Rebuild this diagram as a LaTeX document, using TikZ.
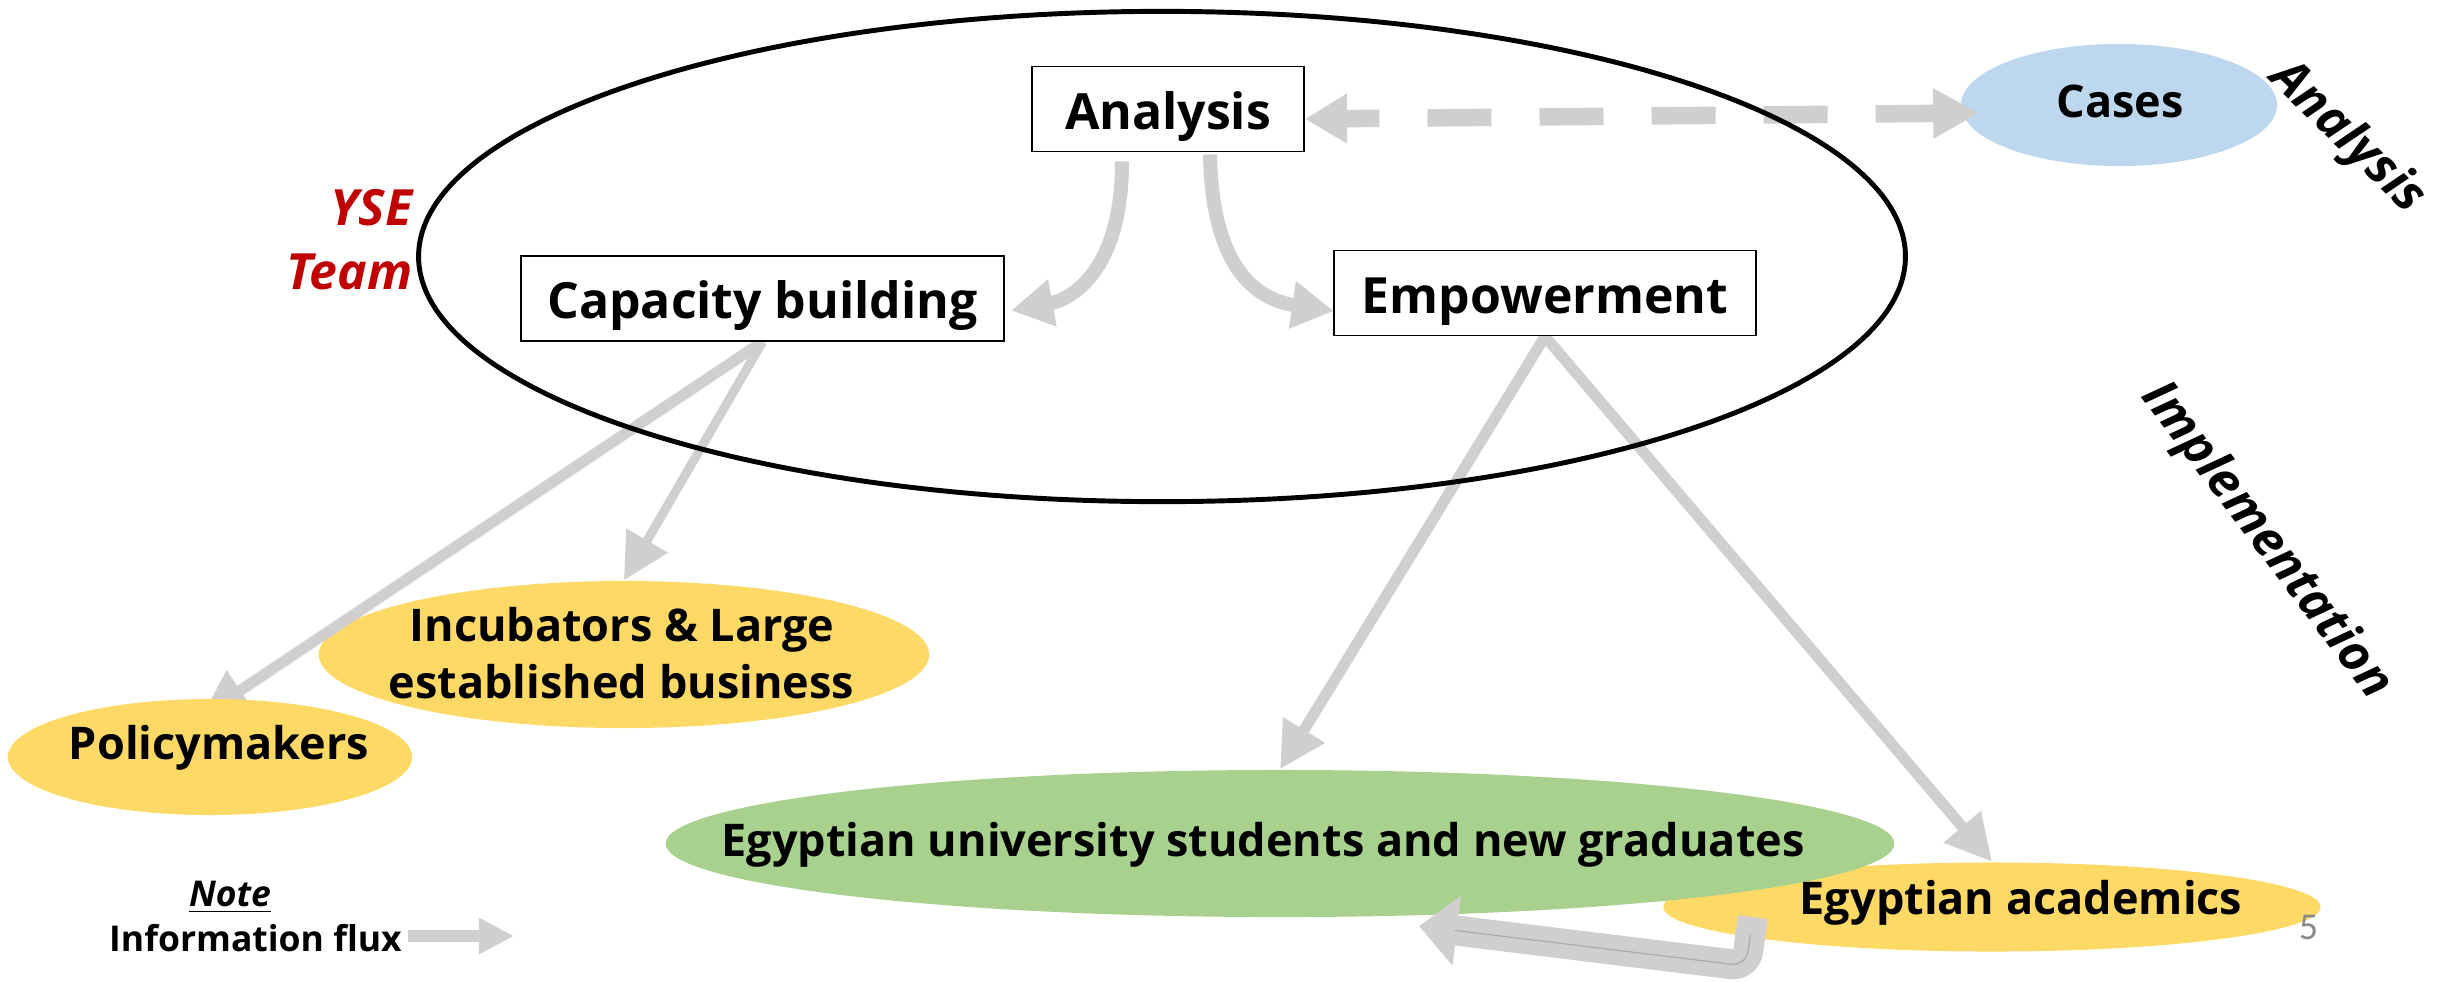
\documentclass[tikz,border=0pt]{standalone}
\usepackage{fontspec}
\setmainfont{Open Sans}
\newfontfamily\numfont{Carlito}
\usetikzlibrary{arrows.meta,shapes.geometric,calc}
\pgfdeclarelayer{bg}
\pgfdeclarelayer{arr}
\pgfsetlayers{bg,arr,main}
\definecolor{flowgray}{RGB}{208,206,206}
\definecolor{flowedge}{RGB}{172,170,170}
\definecolor{gold}{RGB}{255,217,102}
\definecolor{leaf}{RGB}{169,209,142}
\definecolor{sky}{RGB}{189,215,238}
\definecolor{ysered}{RGB}{192,0,0}
\definecolor{pagenum}{RGB}{137,137,137}
\newcommand\sizeL{\fontsize{14.2}{17}\selectfont}
\newcommand\sizeM{\fontsize{12.8}{15}\selectfont}
\newcommand\sizeS{\fontsize{10.1}{12}\selectfont}
\begin{document}
\begin{tikzpicture}[x=0.01cm,y=-0.01cm,
  box/.style={draw, line width=0.5pt, fill=white, inner sep=0pt,
    minimum height=0.85cm, text height=0.5cm, text depth=0.1cm, font=\sizeL\bfseries},
  blob/.style={ellipse, inner sep=0pt},
  lbl/.style={anchor=base, inner sep=0pt, font=\sizeM\bfseries},
  flow/.style={draw=flowgray},
  bighead/.style={-{Triangle[length=0.46cm,width=0.46cm]}},
  side/.style={font=\sizeL\bfseries\itshape, inner sep=0pt}
  ]
\useasboundingbox (0,0) rectangle (2455,981);

% ---------- background ellipses ----------
\begin{pgfonlayer}{bg}
\node[blob, fill=gold, minimum width=6.10cm, minimum height=1.47cm] (inc) at (624,654.5) {};
\node[blob, fill=gold, minimum width=6.57cm, minimum height=0.89cm] (acad) at (1992,907) {};
\node[blob, fill=leaf, minimum width=12.28cm, minimum height=1.47cm] (green) at (1280,843.5) {};
\node[blob, fill=sky, minimum width=3.16cm, minimum height=1.22cm] (cases) at (2119,105) {};
\end{pgfonlayer}

% ---------- main nodes ----------
\node[blob, fill=gold, minimum width=4.04cm, minimum height=1.16cm] (pol) at (210,757) {};
\node[draw, line width=1.4pt, ellipse, inner sep=0pt, minimum width=14.86cm, minimum height=4.90cm] (team) at (1162,256.5) {};
\node[box, minimum width=2.72cm] (ana) at (1168,109) {Analysis};
\node[box, minimum width=4.83cm] (cap) at (762.5,298.5) {Capacity building};
\node[box, minimum width=4.22cm] (emp) at (1545,293) {Empowerment};

\node[lbl] (casesT) at (2120,117.6) {Cases};
\node[lbl] (polT) at (219,759) {Policymakers};
\node[lbl] (incT1) at (622,641) {Incubators \& Large};
\node[lbl] (incT2) at (621.5,698) {established business};
\node[lbl] (greenT) at (1263,856) {Egyptian university students and new graduates};
\node[lbl] (acadT) at (2021,914) {Egyptian academics};

\node[anchor=base east, inner sep=0pt, font=\sizeL\bfseries\itshape, text=ysered] (yse) at (413,225) {YSE};
\node[anchor=base east, inner sep=0pt, font=\sizeL\bfseries\itshape, text=ysered] (teamT) at (413,289) {Team};

\node[side, rotate=-44] (sideAna) at (2347,138) {Analysis};
\node[side, rotate=-53] (sideImp) at (2266,541) {Implementation};

\node[lbl, font=\sizeS\bfseries\itshape] (note) at (230,906) {\underline{Note}};
\node[lbl, font=\sizeS\bfseries] (info) at (255.5,951) {Information flux};
\node[inner sep=0pt, font=\numfont\fontsize{10.8}{12}\selectfont, text=pagenum] (pnum) at (2308.5,927) {5};

% ---------- connectors ----------
\coordinate (legStart) at (408,936);
\coordinate (legTip) at (514,936);
\coordinate (fbA) at ($(acad.center)+(-239,10)$);
\coordinate (fbB) at ($(acad.center)+(-246,59)$);
\coordinate (fbC) at ($(green.center)+(139,82.5)$);

\begin{pgfonlayer}{arr}
% Analysis -> Capacity building
\draw[flow, line width=0.14cm, -{Triangle[length=0.42cm,width=0.45cm]}]
  ($(ana.south)+(-46,9)$) .. controls ($(ana.south)+(-46,119)$) and ($(cap.east)+(66,1)$) .. ($(cap.east)+(6,12)$);
% Analysis -> Empowerment
\draw[flow, line width=0.14cm, -{Triangle[length=0.42cm,width=0.45cm]}]
  ($(ana.south)+(42,2)$) .. controls ($(ana.south)+(44,119)$) and ($(emp.west)+(-74,7)$) .. ($(emp.west)+(1,18)$);
% Analysis <-> Cases (dashed)
\draw[flow, line width=0.175cm, dash pattern=on 0.64cm off 0.48cm, dash phase=0.29cm,
  {Triangle[length=0.42cm,width=0.47cm]}-{Triangle[length=0.46cm,width=0.47cm]}]
  ($(ana.east)+(0,10)$) -- ($(cases.west)+(19,8)$);
% Capacity building -> Policymakers / Incubators
\draw[flow, line width=0.11cm, bighead] (cap.south) -- ($(pol.center)+(-8,-41)$);
\draw[flow, line width=0.09cm, bighead] (cap.south) -- (inc.north);
% Empowerment -> students / academics
\draw[flow, line width=0.11cm, bighead] (emp.south) -- (green.north);
\draw[flow, line width=0.11cm, bighead] (emp.south) -- (acad.north);
% academics -> students (bent arrow)
\draw[flow, line width=0.3cm, rounded corners=0.15cm, -{Triangle[length=0.38cm,width=0.68cm]}]
  (fbA) -- (fbB) -- (fbC);
\draw[flowedge, line width=0.35pt, rounded corners=0.15cm]
  ($(fbA)!0.37!(fbB)$) -- (fbB) -- ($(fbC)!0.36cm!(fbB)$);
% legend arrow
\draw[flow, line width=0.12cm, -{Triangle[length=0.35cm,width=0.34cm]}] (legStart) -- (legTip);
\end{pgfonlayer}
\end{tikzpicture}
\end{document}
